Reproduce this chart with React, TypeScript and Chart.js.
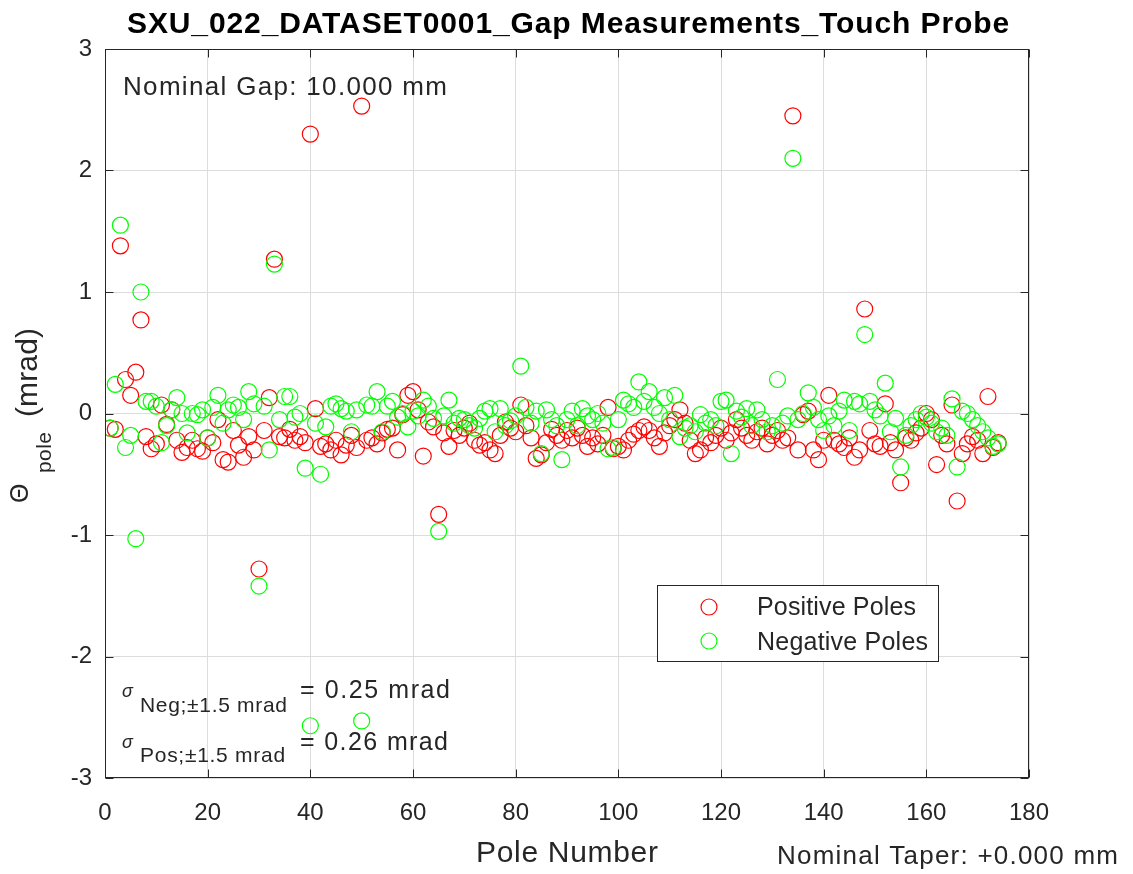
import React, { useEffect, useRef } from "react";
import { Chart, registerables } from "chart.js";

Chart.register(...registerables);

const FONT = "'Liberation Sans', Arial, Helvetica, sans-serif";
const AXIS_COLOR = "#262626";

const titleText = "SXU_022_DATASET0001_Gap Measurements_Touch Probe";
const xLabelText = "Pole Number";
const gapText = "Nominal Gap: 10.000 mm";
const taperText = "Nominal Taper: +0.000 mm";
const legendLabels = ["Positive Poles", "Negative Poles"];
const sigmaNegSub = "Neg;\u00b11.5 mrad";
const sigmaNegValue = "= 0.25 mrad";
const sigmaPosSub = "Pos;\u00b11.5 mrad";
const sigmaPosValue = "= 0.26 mrad";

const xTicks = [0, 20, 40, 60, 80, 100, 120, 140, 160, 180];
const yTicks = [-3, -2, -1, 0, 1, 2, 3];

const poleNumbers = Array.from({ length: 174 }, (_, i) => i + 1);

// Positive poles (red), pole 1..174
const positivePoles = [
  -0.12, -0.13, 1.38, 0.28, 0.15, 0.34, 0.77, -0.19, -0.29, -0.25,
  0.07, -0.09, 0.03, -0.22, -0.32, -0.28, -0.22, -0.29, -0.31, -0.2,
  -0.24, -0.05, -0.38, -0.4, -0.14, -0.26, -0.36, -0.19, -0.3, -1.28,
  -0.14, 0.13, 1.27, -0.19, -0.2, -0.13, -0.22, -0.19, -0.24, 2.3,
  0.04, -0.27, -0.25, -0.3, -0.22, -0.34, -0.26, -0.18, -0.28, 2.53,
  -0.22, -0.2, -0.25, -0.16, -0.13, -0.12, -0.3, -0.01, 0.15, 0.18,
  0.03, -0.35, -0.07, -0.11, -0.83, -0.16, -0.27, -0.14, -0.18, -0.12,
  -0.08, -0.22, -0.26, -0.24, -0.3, -0.33, -0.18, -0.07, -0.12, -0.15,
  0.07, -0.1, -0.2, -0.37, -0.34, -0.24, -0.13, -0.18, -0.22, -0.14,
  -0.2, -0.12, -0.18, -0.27, -0.2, -0.25, -0.18, 0.05, -0.29, -0.27,
  -0.3, -0.22, -0.17, -0.14, -0.11, -0.14, -0.2, -0.27, -0.16, -0.1,
  -0.05, 0.03, -0.08, -0.22, -0.33, -0.3, -0.2, -0.24, -0.18, -0.12,
  -0.22, -0.16, -0.05, -0.12, -0.18, -0.22, -0.15, -0.12, -0.25, -0.18,
  -0.14, -0.22, -0.2, 2.45, -0.3, -0.01, 0.02, -0.3, -0.38, -0.22,
  0.15, -0.22, -0.25, -0.28, -0.2, -0.36, -0.3, 0.86, -0.14, -0.25,
  -0.27, 0.08, -0.24, -0.3, -0.57, -0.2, -0.22, -0.16, -0.12, 0.0,
  -0.05, -0.42, -0.18, -0.25, 0.07, -0.72, -0.33, -0.25, -0.19, -0.22,
  -0.33, 0.14, -0.28, -0.24,
];

// Negative poles (green), pole 1..174
const negativePoles = [
  -0.12, 0.24, 1.55, -0.28, -0.18, -1.03, 1.0, 0.1, 0.1, 0.06,
  -0.24, -0.1, 0.03, 0.13, 0.0, -0.16, 0.0, -0.01, 0.03, -0.2,
  0.05, 0.15, -0.08, 0.03, 0.07, 0.05, -0.05, 0.18, 0.08, -1.42,
  0.06, -0.3, 1.23, -0.05, 0.14, 0.14, -0.03, 0.0, -0.45, -2.57,
  -0.08, -0.5, -0.11, 0.06, 0.08, 0.04, 0.02, -0.15, 0.03, -2.53,
  0.07, 0.06, 0.18, -0.15, 0.06, 0.1, -0.03, 0.0, -0.11, 0.02,
  -0.02, 0.11, 0.06, -0.04, -0.97, -0.02, 0.11, -0.08, -0.04, -0.05,
  -0.1, -0.12, -0.04, 0.02, 0.04, -0.15, 0.04, -0.1, -0.06, -0.02,
  0.39, 0.05, -0.08, 0.02, -0.33, 0.03, -0.05, -0.1, -0.38, -0.05,
  0.02, -0.1, 0.04, -0.02, -0.05, 0.0, -0.08, -0.29, -0.28, -0.05,
  0.11, 0.08, 0.05, 0.26, 0.1, 0.18, 0.05, 0.0, 0.13, -0.05,
  0.15, -0.19, -0.12, -0.1, -0.15, -0.01, -0.08, -0.05, -0.1, 0.1,
  0.11, -0.33, 0.02, -0.03, 0.04, -0.1, 0.03, -0.05, -0.15, -0.1,
  0.28, -0.08, -0.02, 2.1, -0.05, 0.0, 0.17, 0.05, -0.05, -0.14,
  -0.02, -0.1, 0.02, 0.11, -0.14, 0.1, 0.08, 0.65, 0.1, 0.03,
  -0.02, 0.25, -0.15, -0.04, -0.44, -0.18, -0.1, -0.05, 0.0, -0.03,
  -0.08, -0.15, -0.12, -0.18, 0.12, -0.44, 0.02, 0.0, -0.05, -0.1,
  -0.15, -0.2, -0.27, -0.25,
];

function fitText(
  ctx: CanvasRenderingContext2D,
  text: string,
  x: number,
  y: number,
  font: string,
  width: number,
  color: string
) {
  ctx.save();
  ctx.font = font;
  (ctx as any).letterSpacing = "0px";
  const w = ctx.measureText(text).width;
  const n = Math.max(1, text.length - 1);
  const ls = (width - w) / n;
  (ctx as any).letterSpacing = ls.toFixed(2) + "px";
  ctx.fillStyle = color;
  ctx.textAlign = "left";
  ctx.textBaseline = "alphabetic";
  ctx.fillText(text, x, y);
  ctx.restore();
}

const decorPlugin = {
  id: "matlabDecor",
  afterDraw(chart: any) {
    const ctx: CanvasRenderingContext2D = chart.ctx;
    const { left, right, top, bottom } = chart.chartArea;
    const xs = chart.scales.x;
    const ys = chart.scales.y;
    ctx.save();
    // box
    ctx.strokeStyle = AXIS_COLOR;
    ctx.lineWidth = 1;
    const L = Math.round(left) + 0.5;
    const R = Math.round(right) - 0.5;
    const T = Math.round(top) + 0.5;
    const B = Math.round(bottom) - 0.5;
    ctx.strokeRect(L, T, R - L, B - T);
    // inward ticks
    const tl = 8;
    ctx.beginPath();
    xTicks.forEach((v) => {
      const px = Math.round(xs.getPixelForValue(v)) + 0.5;
      ctx.moveTo(px, B);
      ctx.lineTo(px, B - tl);
      ctx.moveTo(px, T);
      ctx.lineTo(px, T + tl);
    });
    yTicks.forEach((v) => {
      const py = Math.round(ys.getPixelForValue(v)) + 0.5;
      ctx.moveTo(L, py);
      ctx.lineTo(L + tl, py);
      ctx.moveTo(R, py);
      ctx.lineTo(R - tl, py);
    });
    ctx.stroke();

    // title
    fitText(ctx, titleText, 127, 33, `bold 30px ${FONT}`, 882, "#000000");
    // x label
    fitText(ctx, xLabelText, 476, 862, `30px ${FONT}`, 182, AXIS_COLOR);
    // taper
    fitText(ctx, taperText, 777, 864, `26px ${FONT}`, 341, AXIS_COLOR);
    // nominal gap
    fitText(ctx, gapText, 123, 95, `26px ${FONT}`, 324, AXIS_COLOR);

    // y label (rotated)
    ctx.save();
    ctx.rotate(-Math.PI / 2);
    fitText(ctx, "\u0398", -503, 28, `25px ${FONT}`, 20, AXIS_COLOR);
    fitText(ctx, "pole", -473, 51, `21px ${FONT}`, 41, AXIS_COLOR);
    fitText(ctx, "(mrad)", -417, 37, `30px ${FONT}`, 89, AXIS_COLOR);
    ctx.restore();

    // sigma annotations
    ctx.fillStyle = AXIS_COLOR;
    ctx.font = `italic 18px ${FONT}`;
    ctx.textBaseline = "alphabetic";
    ctx.textAlign = "left";
    ctx.fillText("\u03c3", 122, 697);
    ctx.fillText("\u03c3", 122, 748);
    fitText(ctx, sigmaNegSub, 140, 712, `21px ${FONT}`, 147, AXIS_COLOR);
    fitText(ctx, sigmaNegValue, 300, 698, `25px ${FONT}`, 150, AXIS_COLOR);
    fitText(ctx, sigmaPosSub, 140, 762, `21px ${FONT}`, 145, AXIS_COLOR);
    fitText(ctx, sigmaPosValue, 300, 750, `25px ${FONT}`, 148, AXIS_COLOR);

    // legend
    ctx.fillStyle = "#ffffff";
    ctx.fillRect(657.5, 585.5, 281, 76);
    ctx.strokeStyle = AXIS_COLOR;
    ctx.lineWidth = 1;
    ctx.strokeRect(657.5, 585.5, 281, 76);
    const legendColors = ["#ff0000", "#00ff00"];
    const legendY = [607, 641];
    const legendBase = [615, 650];
    const legendW = [159, 171];
    legendLabels.forEach((lab, i) => {
      ctx.beginPath();
      ctx.strokeStyle = legendColors[i];
      ctx.lineWidth = 1.2;
      ctx.arc(709, legendY[i], 8, 0, Math.PI * 2);
      ctx.stroke();
      fitText(ctx, lab, 757, legendBase[i], `25px ${FONT}`, legendW[i], AXIS_COLOR);
    });
    ctx.restore();
  },
};

export default function App() {
  const canvasRef = useRef<HTMLCanvasElement | null>(null);

  useEffect(() => {
    const canvas = canvasRef.current;
    if (!canvas) return;
    const chart = new Chart(canvas, {
      type: "scatter",
      data: {
        datasets: [
          {
            label: "Negative Poles",
            data: poleNumbers.map((p, i) => ({ x: p, y: negativePoles[i] })),
            borderColor: "#00ff00",
            backgroundColor: "rgba(0,0,0,0)",
            pointRadius: 8,
            pointHoverRadius: 8,
            pointBorderWidth: 1.2,
          },
          {
            label: "Positive Poles",
            data: poleNumbers.map((p, i) => ({ x: p, y: positivePoles[i] })),
            borderColor: "#ff0000",
            backgroundColor: "rgba(0,0,0,0)",
            pointRadius: 8,
            pointHoverRadius: 8,
            pointBorderWidth: 1.2,
          },
        ],
      },
      options: {
        responsive: false,
        animation: false,
        devicePixelRatio: 1,
        events: [],
        layout: { padding: { top: 49, right: 104, bottom: 0, left: 0 } },
        plugins: {
          legend: { display: false },
          title: { display: false },
          tooltip: { enabled: false },
        },
        scales: {
          x: {
            type: "linear",
            min: 0,
            max: 180,
            afterBuildTicks: (s: any) => {
              s.ticks = xTicks.map((v) => ({ value: v }));
            },
            afterFit: (s: any) => {
              s.height = 96;
            },
            grid: { color: "#dcdcdc", lineWidth: 1, drawTicks: false },
            border: { display: false },
            ticks: {
              font: { family: FONT, size: 24 },
              color: AXIS_COLOR,
              padding: 21,
              maxRotation: 0,
              autoSkip: false,
            },
          },
          y: {
            type: "linear",
            min: -3,
            max: 3,
            afterBuildTicks: (s: any) => {
              s.ticks = yTicks.map((v) => ({ value: v }));
            },
            afterFit: (s: any) => {
              s.width = 105;
            },
            grid: { color: "#dcdcdc", lineWidth: 1, drawTicks: false },
            border: { display: false },
            ticks: {
              font: { family: FONT, size: 24 },
              color: AXIS_COLOR,
              padding: 13,
              autoSkip: false,
            },
          },
        },
      },
      plugins: [decorPlugin],
    } as any);
    return () => chart.destroy();
  }, []);

  return (
    <div style={{ position: "absolute", left: 0, top: 0, width: 1133, height: 874, background: "#fff" }}>
      <canvas ref={canvasRef} width={1133} height={874} style={{ display: "block" }} />
    </div>
  );
}
